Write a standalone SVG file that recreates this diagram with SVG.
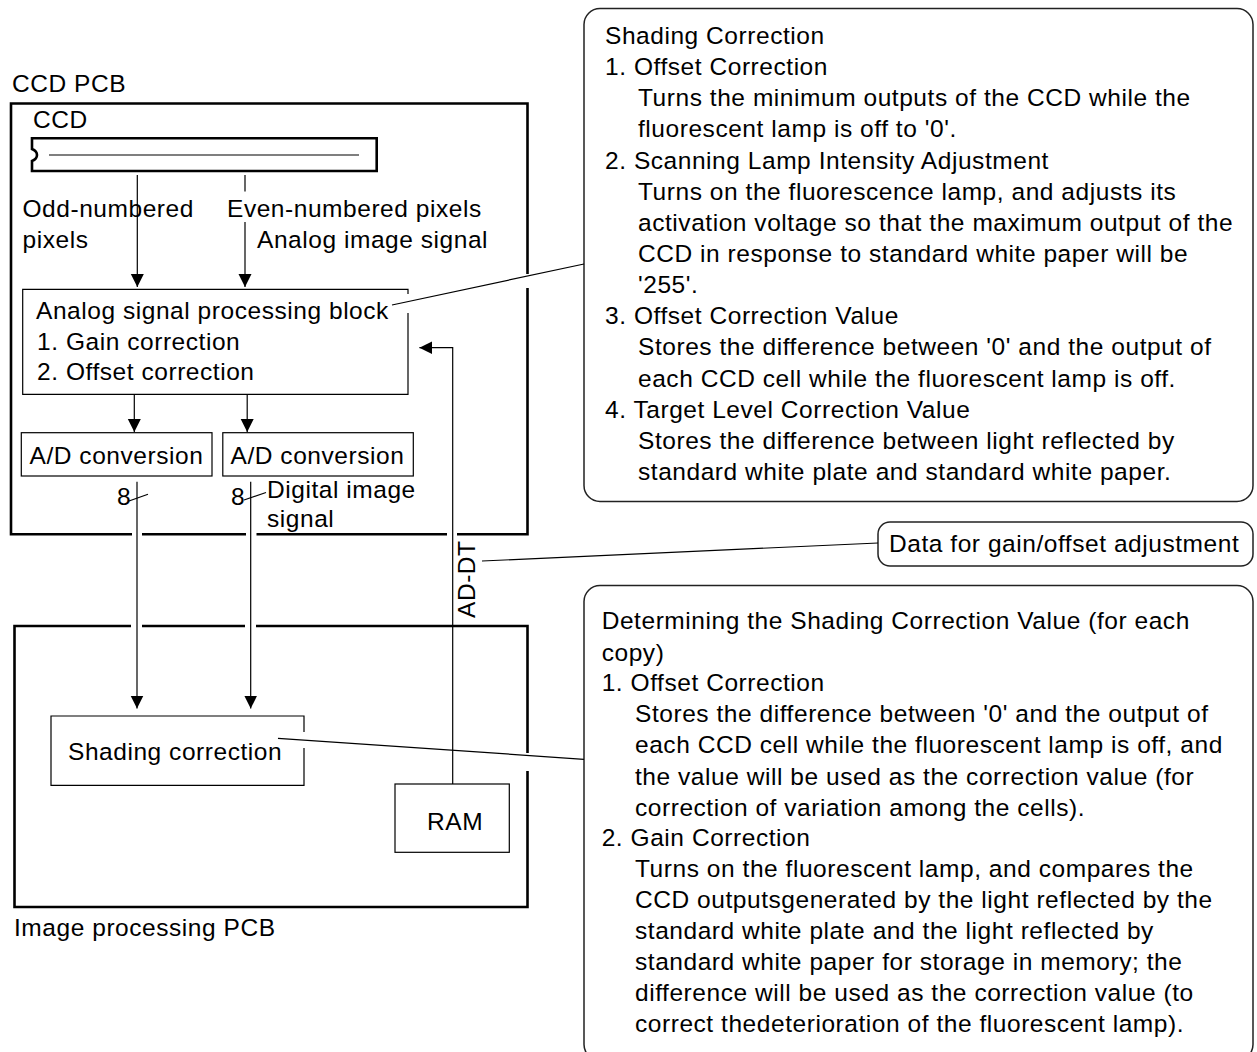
<svg xmlns="http://www.w3.org/2000/svg" width="1257" height="1052" viewBox="0 0 1257 1052">
<style>
text{font-family:"Liberation Sans",Arial,Helvetica,sans-serif;font-size:24.5px;letter-spacing:0.55px;fill:#000}
.thick{fill:none;stroke:#000;stroke-width:2.6}
.box{fill:none;stroke:#000;stroke-width:1.2}
.call{fill:#fff;stroke:#222;stroke-width:1.5}
.ln{fill:none;stroke:#000;stroke-width:1.2}
.arr{fill:none;stroke:#000;stroke-width:1.2;marker-end:url(#ah)}
</style>
<defs>
<marker id="ah" markerUnits="userSpaceOnUse" markerWidth="14" markerHeight="14" refX="13" refY="6.5" orient="auto">
<path d="M0,0 L13,6.5 L0,13 Z" fill="#000"/>
</marker>
</defs>
<rect width="1257" height="1052" fill="#fff"/>

<g id="ccd-pcb">
<path class="thick" d="M527.5,274 V103.5 H11 V534.3 H132 M142,534.3 H246 M256.5,534.3 H447 M457,534.3 H527.5 V288"/>
<text x="12" y="91.7">CCD PCB</text>
</g>

<g id="ccd">
<text x="33" y="128.3">CCD</text>
<path class="thick" d="M32,138.3 V149 Q37,151 37,155 Q37,159 32,161 V171 H376.7 V138.3 Z"/>
<line x1="49" y1="155" x2="359" y2="155" stroke="#555" stroke-width="1.5"/>
</g>

<g id="labels-ccd">
<text x="22.5" y="216.5">Odd-numbered</text>
<text x="22.5" y="248">pixels</text>
<text x="227" y="216.5">Even-numbered pixels</text>
<text x="257" y="248">Analog image signal</text>
</g>

<g id="analog-block">
<path class="box" d="M408,294 V289.3 H22.7 V394.3 H408 V313"/>
<text x="36" y="318.5">Analog signal processing block</text>
<text x="37" y="349.5">1. Gain correction</text>
<text x="37" y="380">2. Offset correction</text>
</g>

<g id="ad1">
<rect class="box" x="21.3" y="432.7" width="190.7" height="43.3"/>
<text x="29.5" y="463.5">A/D conversion</text>
</g>
<g id="ad2">
<rect class="box" x="222.8" y="432.7" width="190.5" height="43.3"/>
<text x="230.5" y="463.5">A/D conversion</text>
</g>

<g id="bus-labels">
<text x="117" y="505">8</text>
<text x="231" y="505">8</text>
<text x="267" y="497.5">Digital image</text>
<text x="267" y="526.5">signal</text>
<text transform="translate(475,618) rotate(-90)">AD-DT</text>
</g>

<g id="image-pcb">
<path class="thick" d="M527.5,753 V626 H256 M245,626 H142 M131,626 H14.5 V907 H527.5 V771"/>
<text x="14" y="936">Image processing PCB</text>
</g>

<g id="shading">
<path class="box" d="M304,732 V716 H51 V785.3 H304 V748"/>
<text x="68" y="760">Shading correction</text>
</g>

<g id="ram">
<rect class="box" x="395" y="784" width="114.3" height="68.3"/>
<text x="427" y="830">RAM</text>
</g>

<g id="note-shading">
<rect class="call" x="584" y="8.5" width="669" height="493" rx="16"/>
<text x="605" y="44">Shading Correction</text>
<text x="605" y="75.1">1. Offset Correction</text>
<text x="638" y="106.3">Turns the minimum outputs of the CCD while the</text>
<text x="638" y="137.4">fluorescent lamp is off to '0'.</text>
<text x="605" y="168.6">2. Scanning Lamp Intensity Adjustment</text>
<text x="638" y="199.7">Turns on the fluorescence lamp, and adjusts its</text>
<text x="638" y="230.8">activation voltage so that the maximum output of the</text>
<text x="638" y="262">CCD in response to standard white paper will be</text>
<text x="638" y="293.1">'255'.</text>
<text x="605" y="324.3">3. Offset Correction Value</text>
<text x="638" y="355.4">Stores the difference between '0' and the output of</text>
<text x="638" y="386.5">each CCD cell while the fluorescent lamp is off.</text>
<text x="605" y="417.7">4. Target Level Correction Value</text>
<text x="638" y="448.8">Stores the difference between light reflected by</text>
<text x="638" y="480">standard white plate and standard white paper.</text>
</g>

<g id="note-data">
<rect class="call" x="878" y="522" width="375" height="44" rx="12"/>
<text x="889" y="551.7">Data for gain/offset adjustment</text>
</g>

<g id="note-determining">
<rect class="call" x="584" y="585.5" width="669" height="475" rx="16"/>
<text x="601.7" y="629">Determining the Shading Correction Value (for each</text>
<text x="601.7" y="661">copy)</text>
<text x="601.7" y="691">1. Offset Correction</text>
<text x="635" y="722">Stores the difference between '0' and the output of</text>
<text x="635" y="753.3">each CCD cell while the fluorescent lamp is off, and</text>
<text x="635" y="784.6">the value will be used as the correction value (for</text>
<text x="635" y="815.9">correction of variation among the cells).</text>
<text x="601.7" y="846">2. Gain Correction</text>
<text x="635" y="877">Turns on the fluorescent lamp, and compares the</text>
<text x="635" y="908">CCD outputsgenerated by the light reflected by the</text>
<text x="635" y="939">standard white plate and the light reflected by</text>
<text x="635" y="970">standard white paper for storage in memory; the</text>
<text x="635" y="1001">difference will be used as the correction value (to</text>
<text x="635" y="1032">correct thedeterioration of the fluorescent lamp).</text>
</g>

<g id="connectors">
<line class="arr" x1="137.3" y1="175" x2="137.3" y2="287"/>
<line class="ln" x1="245" y1="175" x2="245" y2="191.5"/>
<line class="arr" x1="245" y1="222" x2="245" y2="287"/>
<line class="arr" x1="134.3" y1="394.3" x2="134.3" y2="432"/>
<line class="arr" x1="247.2" y1="394.3" x2="247.2" y2="432"/>
<line class="arr" x1="137" y1="481.7" x2="137" y2="708.5"/>
<line class="arr" x1="250.7" y1="481.7" x2="250.7" y2="708.5"/>
<polyline class="arr" points="452.7,784 452.7,347.7 419.4,347.7"/>
<line class="ln" x1="129" y1="501" x2="148" y2="494.3"/>
<line class="ln" x1="244" y1="500" x2="266" y2="492.5"/>
<line class="ln" x1="392" y1="305" x2="584" y2="264"/>
<line class="ln" x1="278" y1="738.3" x2="584" y2="759.3"/>
<line class="ln" x1="482" y1="561" x2="878" y2="543"/>
</g>
</svg>
